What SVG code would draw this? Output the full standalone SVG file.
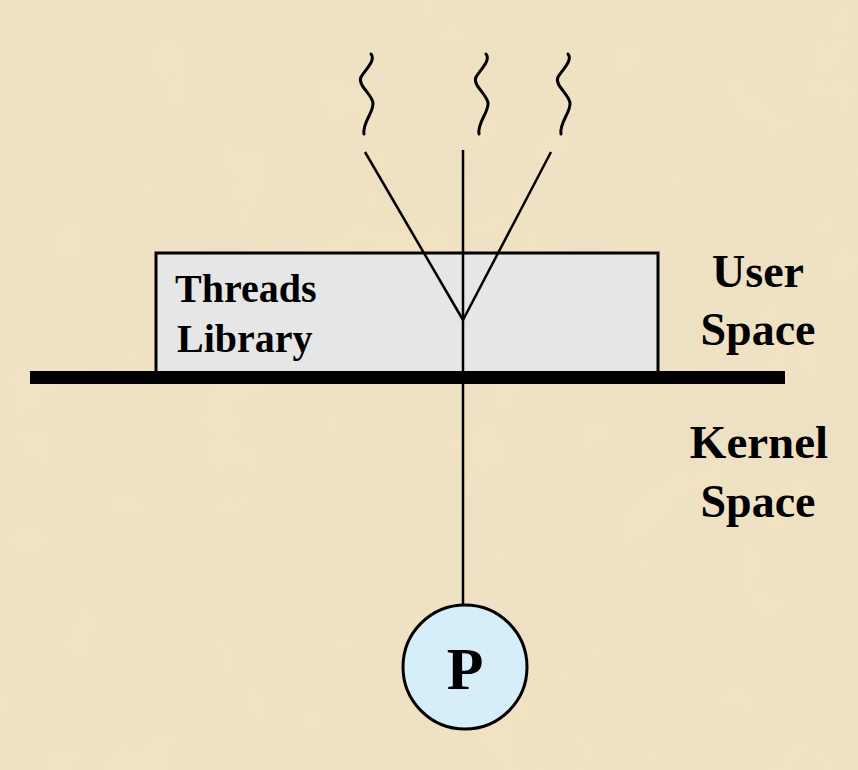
<svg xmlns="http://www.w3.org/2000/svg" xmlns:xlink="http://www.w3.org/1999/xlink" width="858" height="770" viewBox="0 0 858 770">
  <style>
    .lbl { font-family: "Liberation Serif", "Times New Roman", serif; font-weight: bold; fill: #000; }
    .ln { stroke: #000; stroke-width: 2.5; fill: none; }
    .wv { stroke: #000; stroke-width: 3; fill: none; stroke-linecap: round; }
  </style>
  <defs>
    <filter id="tex" x="0" y="0" width="100%" height="100%">
      <feTurbulence type="fractalNoise" baseFrequency="0.015" numOctaves="4" seed="3" result="n"/>
      <feColorMatrix in="n" type="matrix" values="0 0 0 0 0.80  0 0 0 0 0.72  0 0 0 0 0.55  0 0 0 0.5 -0.12"/>
    </filter>
    <path id="wave" d="M 5,0 C 10,6 0,15 -5,23 C -9,31 6,40 7,49 C 8,58 -4,69 -2,80" class="wv"/>
  </defs>
  <rect width="858" height="770" fill="#F0E2C3"/>
  <rect width="858" height="770" filter="url(#tex)"/>

  <g id="threads">
    <use xlink:href="#wave" x="366" y="54"/>
    <use xlink:href="#wave" x="481" y="54"/>
    <use xlink:href="#wave" x="563" y="54"/>
  </g>

  <g id="threads-library">
    <rect x="156" y="253" width="502" height="120" fill="#E6E6E6" stroke="#000" stroke-width="3"/>
    <text class="lbl" x="175" y="302" font-size="40">Threads</text>
    <text class="lbl" x="177" y="352" font-size="40">Library</text>
  </g>

  <g id="connectors">
    <line class="ln" x1="365" y1="152" x2="463" y2="320"/>
    <line class="ln" x1="551" y1="152" x2="463" y2="320"/>
    <line class="ln" x1="463" y1="150" x2="463" y2="605"/>
  </g>

  <g id="boundary">
    <rect x="30" y="371" width="755" height="13" fill="#000"/>
  </g>

  <g id="labels">
    <text class="lbl" x="758" y="287" font-size="46" text-anchor="middle">User</text>
    <text class="lbl" x="758" y="345" font-size="46" text-anchor="middle">Space</text>
    <text class="lbl" x="759" y="458" font-size="47" text-anchor="middle">Kernel</text>
    <text class="lbl" x="758" y="517" font-size="46" text-anchor="middle">Space</text>
  </g>

  <g id="process">
    <circle cx="465" cy="667" r="62" fill="#D6EEFA" stroke="#000" stroke-width="3"/>
    <text class="lbl" x="465" y="689" font-size="60" text-anchor="middle">P</text>
  </g>
</svg>
